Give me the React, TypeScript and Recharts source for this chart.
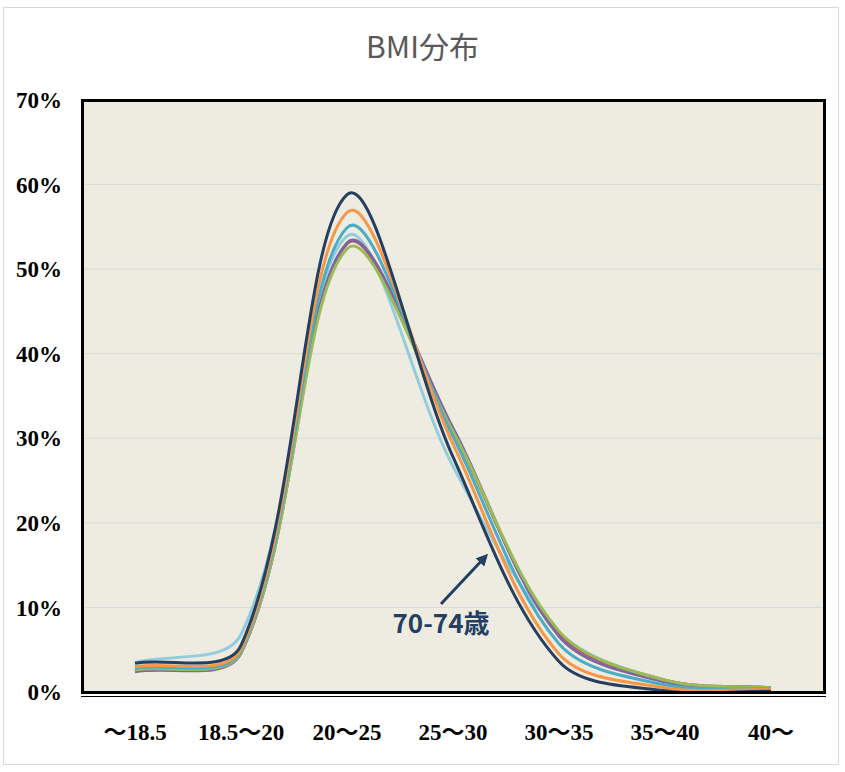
import { LineChart, Line, XAxis, YAxis, CartesianGrid } from 'recharts';

const categories = ['～18.5', '18.5～20', '20～25', '25～30', '30～35', '35～40', '40～'];
const yTicks = [0, 10, 20, 30, 40, 50, 60, 70];

// BMI distribution (%) per age group
const age40_44 = [2.6, 4.7, 52.4, 30.8, 7.2, 1.4, 0.5];
const age45_49 = [2.5, 4.7, 53.0, 30.8, 7.0, 1.4, 0.5];
const age50_54 = [2.4, 4.6, 53.1, 31.2, 6.6, 1.2, 0.4];
const age55_59 = [3.5, 6.8, 53.9, 26.7, 7.1, 1.4, 0.5];
const age60_64 = [2.8, 4.9, 54.9, 30.2, 5.7, 0.85, 0.35];
const age65_69 = [3.0, 5.1, 56.7, 29.3, 4.5, 0.5, 0.3];
const age70_74 = [3.4, 5.5, 58.8, 27.8, 3.6, 0.15, 0.1];

const series = [
  { key: '55-59歳', values: age55_59, color: '#93CDDD' },
  { key: '45-49歳', values: age45_49, color: '#C0504D' },
  { key: '50-54歳', values: age50_54, color: '#8064A2' },
  { key: '40-44歳', values: age40_44, color: '#9BBB59' },
  { key: '60-64歳', values: age60_64, color: '#4BACC6' },
  { key: '65-69歳', values: age65_69, color: '#F79646' },
  { key: '70-74歳', values: age70_74, color: '#243F60' },
];

const data = categories.map((name, i) => {
  const row: Record<string, string | number> = { name };
  series.forEach((s) => {
    row[s.key] = s.values[i];
  });
  return row;
});

// smoothing close to the spreadsheet "smoothed line"
const smoothCurve = (context: any) => {
  let pts: number[][] = [];
  return {
    areaStart() {},
    areaEnd() {},
    lineStart() {
      pts = [];
    },
    point(x: number, y: number) {
      pts.push([+x, +y]);
    },
    lineEnd() {
      const n = pts.length;
      if (!n) return;
      context.moveTo(pts[0][0], pts[0][1]);
      if (n === 1) return;
      const ctrl = (i: number) => {
        const p = pts[i];
        const a = pts[Math.max(i - 1, 0)];
        const b = pts[Math.min(i + 1, n - 1)];
        const l1 = Math.hypot(p[0] - a[0], p[1] - a[1]);
        const l2 = Math.hypot(b[0] - p[0], b[1] - p[1]);
        const s = l1 + l2 || 1;
        const dx = b[0] - a[0];
        const dy = b[1] - a[1];
        return {
          before: [p[0] - (dx * l1) / s / 3, p[1] - (dy * l1) / s / 3],
          after: [p[0] + (dx * l2) / s / 3, p[1] + (dy * l2) / s / 3],
        };
      };
      for (let i = 0; i < n - 1; i++) {
        const c1 = ctrl(i).after;
        const c2 = ctrl(i + 1).before;
        context.bezierCurveTo(c1[0], c1[1], c2[0], c2[1], pts[i + 1][0], pts[i + 1][1]);
      }
    },
  };
};

const tickFont = {
  fontFamily: '"Liberation Serif", "Times New Roman", "Noto Sans CJK JP", serif',
  fontWeight: 700,
  fontSize: 23,
  fill: '#000',
};

export default function App() {
  return (
    <div style={{ position: 'absolute', left: 0, top: 0, width: 845, height: 772, background: '#fff' }}>
      <div
        style={{
          position: 'absolute', left: 3, top: 7, width: 836, height: 758,
          border: '1px solid #D9D9D9', boxSizing: 'border-box',
        }}
      />
      <div
        style={{
          position: 'absolute', left: 0, top: 23, width: 845, textAlign: 'center',
          fontFamily: '"Noto Sans CJK JP", "Noto Sans", sans-serif', fontSize: 30, color: '#595959',
        }}
      >
        BMI分布
      </div>
      <LineChart
        width={845}
        height={772}
        data={data}
        margin={{ top: 100, right: 21, bottom: 40, left: 10 }}
        style={{ position: 'absolute', left: 0, top: 0 }}
      >
        <CartesianGrid vertical={false} stroke="#D9D9D9" fill="#EEECE1" />
        <XAxis
          dataKey="name"
          axisLine={false}
          tickLine={false}
          tickSize={0}
          tickMargin={32}
          height={40}
          padding={{ left: 53, right: 53 }}
          interval={0}
          tick={tickFont}
        />
        <YAxis
          domain={[0, 70]}
          ticks={yTicks}
          width={72}
          axisLine={false}
          tickLine={false}
          tickSize={0}
          tickMargin={20}
          tick={tickFont}
          tickFormatter={(v) => `${v}%`}
          allowDataOverflow
        />
        {series.map((s) => (
          <Line
            key={s.key}
            dataKey={s.key}
            type={smoothCurve as any}
            stroke={s.color}
            strokeWidth={3}
            dot={false}
            activeDot={false}
            isAnimationActive={false}
          />
        ))}
      </LineChart>
      <div
        style={{
          position: 'absolute', left: 80.5, top: 98.5, width: 745, height: 595,
          border: '3px solid #000', boxSizing: 'border-box', pointerEvents: 'none',
        }}
      />
      <div style={{ position: 'absolute', left: 80.5, top: 696, width: 745, height: 1, background: '#000' }} />
      <svg width={845} height={772} style={{ position: 'absolute', left: 0, top: 0, pointerEvents: 'none' }}>
        <defs>
          <marker id="arrowHead" markerWidth="4" markerHeight="4" refX="2.5" refY="2" orient="auto">
            <path d="M0,0 L4,2 L0,4 z" fill="#243F60" />
          </marker>
        </defs>
        <line x1={441} y1={604} x2={485} y2={557} stroke="#243F60" strokeWidth={3} markerEnd="url(#arrowHead)" />
        <text
          x={441}
          y={633}
          textAnchor="middle"
          fontFamily='"Noto Sans CJK JP", "Noto Sans", sans-serif'
          fontWeight={700}
          fontSize={26}
          fill="#243F60"
        >
          70-74歳
        </text>
      </svg>
    </div>
  );
}
